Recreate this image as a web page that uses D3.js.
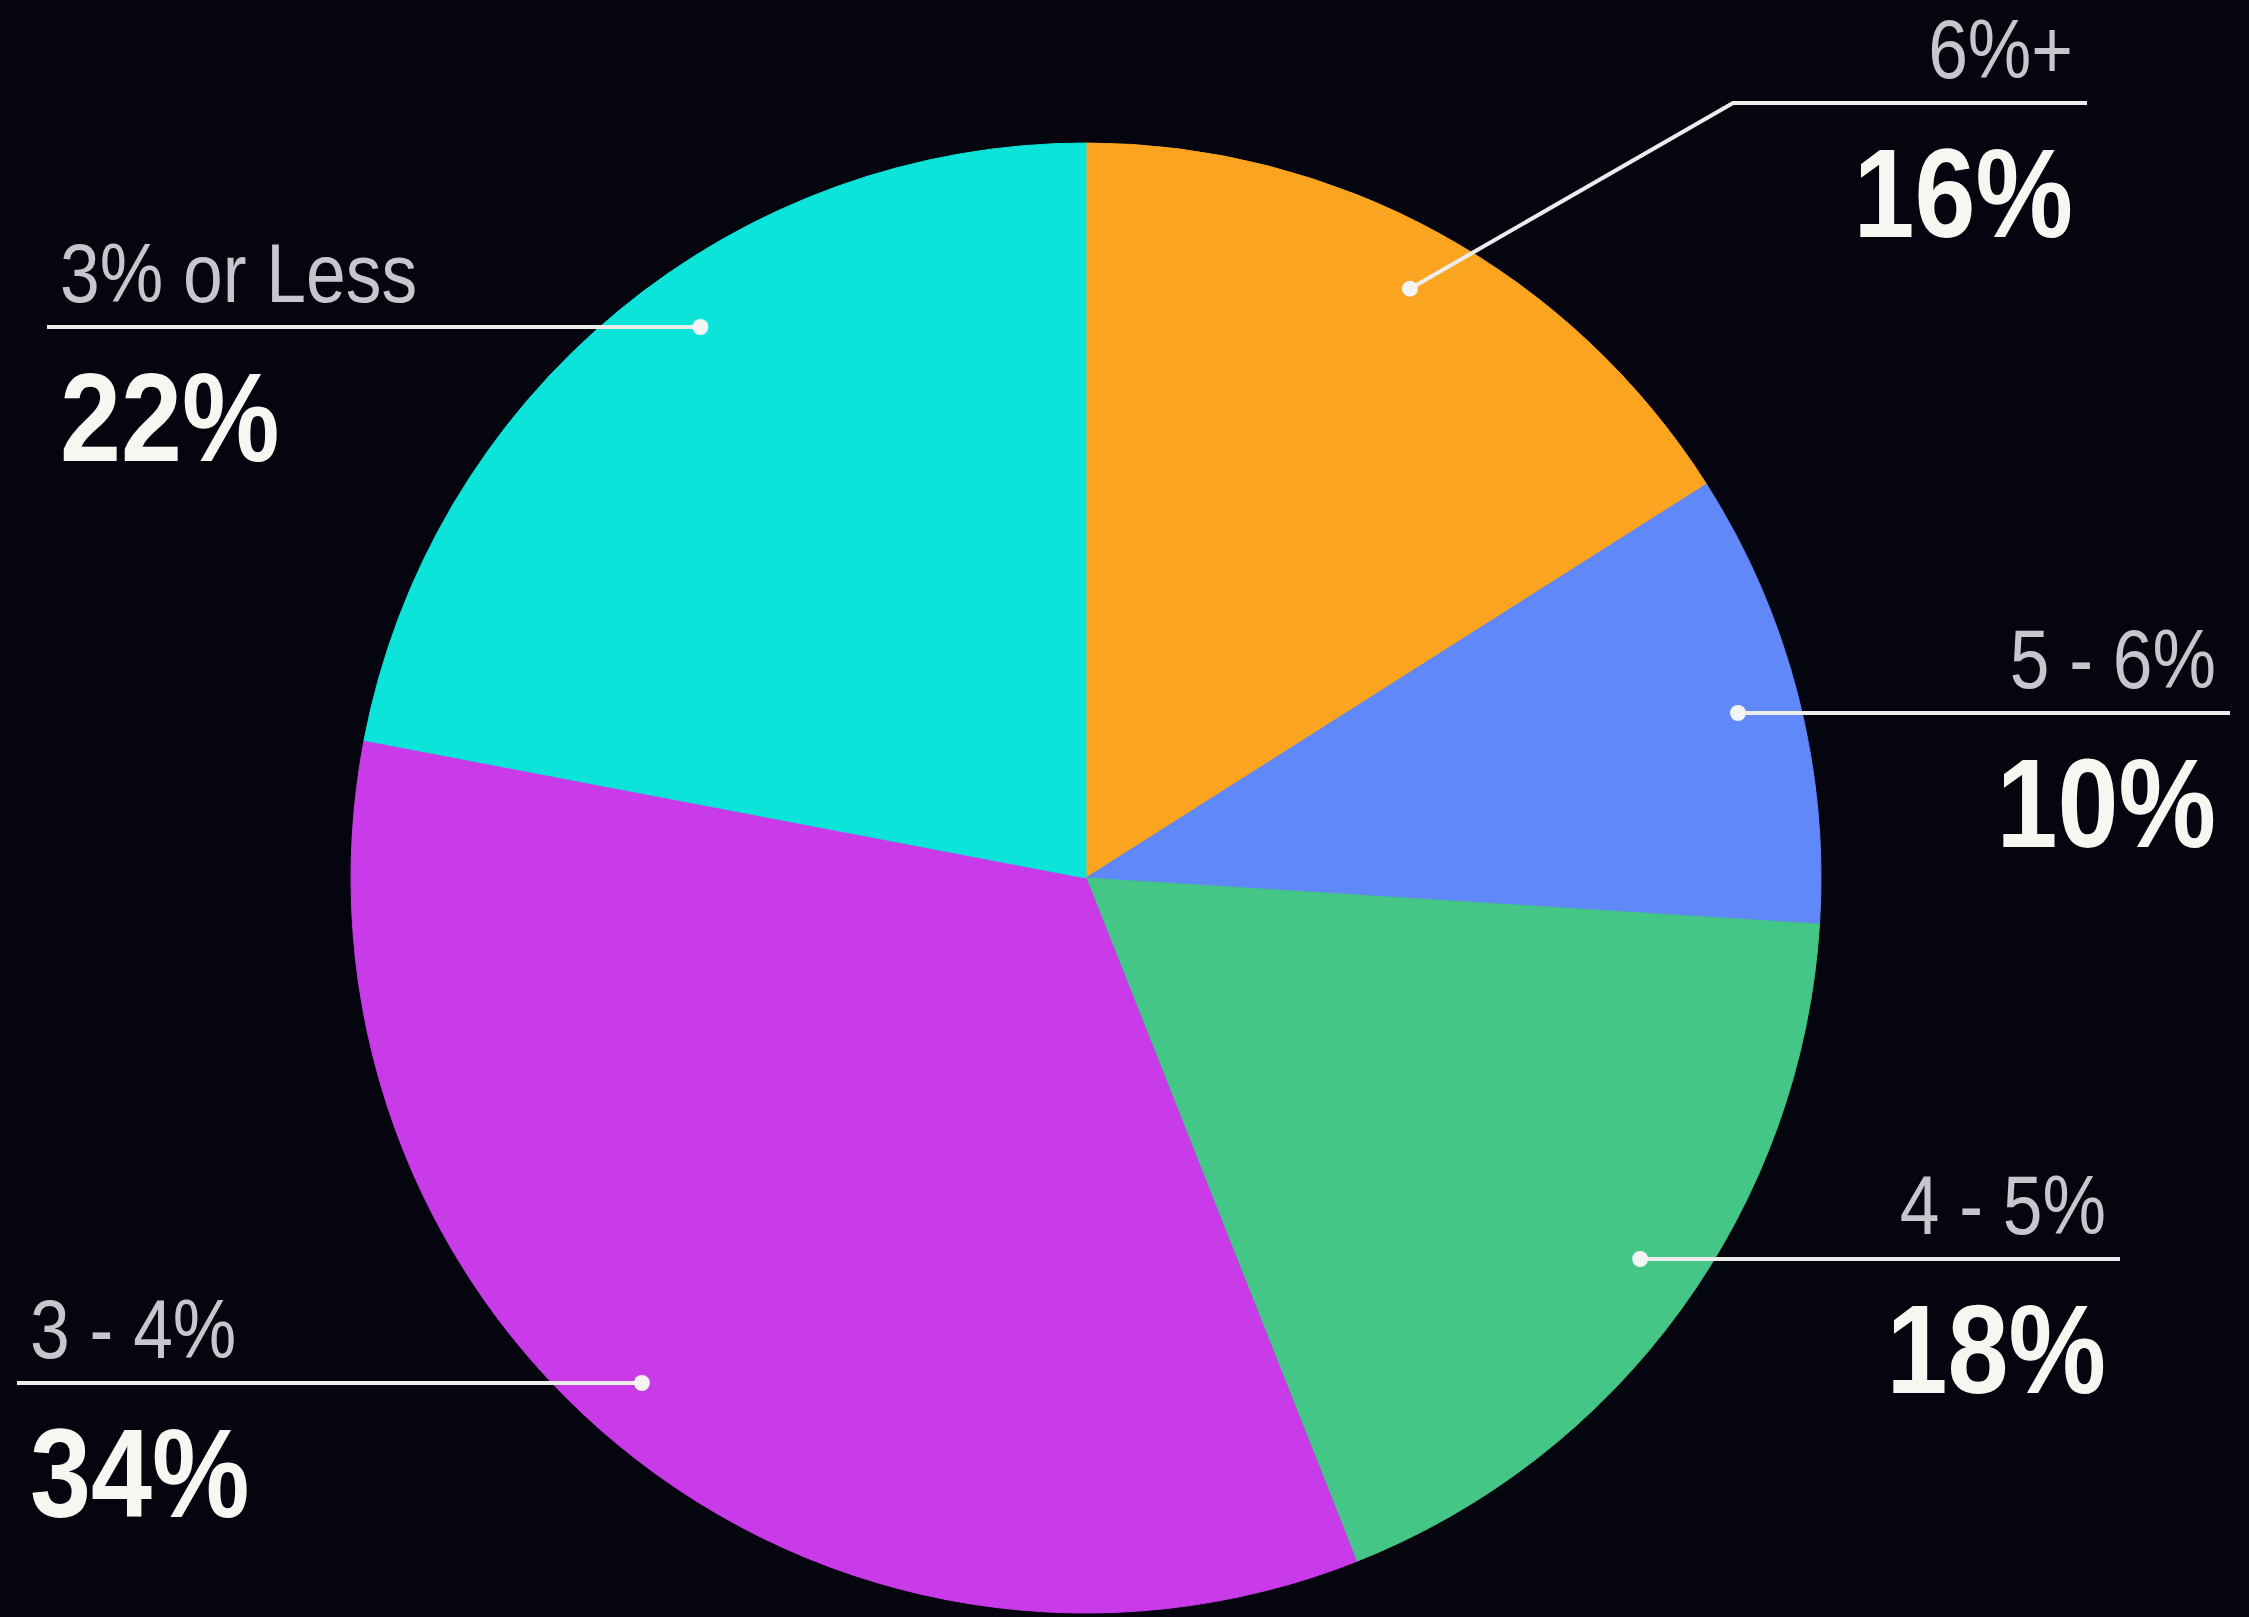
<!DOCTYPE html>
<html>
<head>
<meta charset="utf-8">
<script src="https://cdn.jsdelivr.net/npm/d3@7"></script>
<style>
  html, body { margin: 0; padding: 0; background: #04050f; }
  svg { display: block; }
  .cat { font-family: "Liberation Sans", Arial, sans-serif; fill: #c6c6cc; }
  .val { font-family: "Liberation Sans", Arial, sans-serif; font-weight: bold; fill: #f7f7f2; }
</style>
</head>
<body>
<script>
// Share of respondents by rate bracket, clockwise from 12 o'clock
const categories = ["6%+", "5 - 6%", "4 - 5%", "3 - 4%", "3% or Less"];
const shares = [16, 10, 18, 34, 22];
const colors = ["#fba41f", "#6088f9", "#43c686", "#c93ae9", "#0ce4d9"];

// Callout placement for each bracket: side of the chart, y of the leader line,
// outer end of the leader line, and (for the first one) an elbow point.
const calloutSide = ["right", "right", "right", "left", "left"];
const calloutLineY = [103, 713, 1259, 1383, 327];
const calloutLineEnd = [2087, 2230, 2120, 17, 47];
const calloutElbowX = [1733, null, null, null, null];

const W = 2249, H = 1617;
const cx = 1086, cy = 878, R = 735;

// condensed look: regular sans squeezed horizontally
const catSize = 84, catSqueeze = 0.85;
const valSize = 126, valSqueeze = 0.87;

const svg = d3.select("body").append("svg")
  .attr("width", W).attr("height", H);

svg.append("rect").attr("width", W).attr("height", H).attr("fill", "#04050f");

const data = categories.map((c, i) => ({ cat: c, value: shares[i], color: colors[i], i }));

const pie = d3.pie().sort(null).value(d => d.value);
const arcs = pie(data);
const arc = d3.arc().innerRadius(0).outerRadius(R);

const g = svg.append("g").attr("transform", `translate(${cx},${cy})`);
g.selectAll("path.slice")
  .data(arcs)
  .join("path")
  .attr("class", "slice")
  .attr("d", arc)
  .attr("fill", d => d.data.color)
  .attr("stroke", d => d.data.color)
  .attr("stroke-width", 1);

// Leader lines, dots and labels
const dotR = R * 0.915;
const lines = svg.append("g");
arcs.forEach((a, i) => {
  const side = calloutSide[i];
  const ly = calloutLineY[i];
  const end = calloutLineEnd[i];
  let dot;
  let pts;
  if (calloutElbowX[i] != null) {
    const mid = (a.startAngle + a.endAngle) / 2;
    dot = [cx + dotR * Math.sin(mid), cy - dotR * Math.cos(mid)];
    pts = [dot, [calloutElbowX[i], ly], [end, ly]];
  } else {
    const dy = ly - cy;
    const dx = Math.sqrt(Math.max(0, dotR * dotR - dy * dy));
    dot = [side === "right" ? cx + dx : cx - dx, ly];
    pts = [dot, [end, ly]];
  }
  lines.append("path")
    .attr("d", d3.line()(pts))
    .attr("fill", "none")
    .attr("stroke", "#ececec")
    .attr("stroke-width", 4)
    .attr("stroke-linejoin", "round");
  lines.append("circle")
    .attr("cx", dot[0]).attr("cy", dot[1]).attr("r", 8)
    .attr("fill", "#f4f4f4");

  const tx = side === "right" ? end - 14 : end + 13;
  const anchor = side === "right" ? "end" : "start";
  lines.append("text")
    .attr("class", "cat")
    .attr("transform", `translate(${tx},${ly - 25}) scale(${catSqueeze},1)`)
    .attr("text-anchor", anchor)
    .attr("font-size", catSize)
    .text(a.data.cat);
  lines.append("text")
    .attr("class", "val")
    .attr("transform", `translate(${tx},${ly + 134}) scale(${valSqueeze},1)`)
    .attr("text-anchor", anchor)
    .attr("font-size", valSize)
    .text(a.data.value + "%");
});
</script>
</body>
</html>
